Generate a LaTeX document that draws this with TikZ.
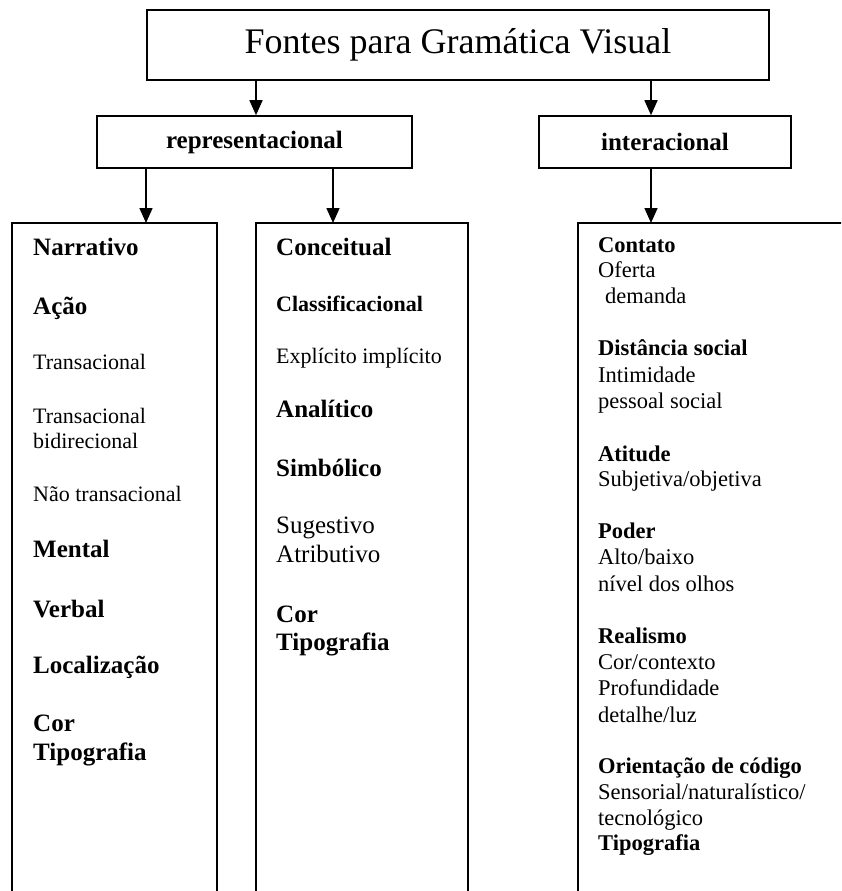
\documentclass[tikz,border=0pt]{standalone}
\usepackage{fontspec}
\setmainfont{Liberation Serif}
\usetikzlibrary{arrows.meta}

\tikzset{
	caixa/.style = {draw, line width = 1.6pt, inner sep = 0pt},
	seta/.style = {line width = 1.6pt, -{Triangle[length = 15pt, width = 13pt]}},
	cab/.style = {anchor = base west, inner sep = 0pt, font = \fontsize{25}{29}\selectfont\bfseries},
	subcab/.style = {anchor = base west, inner sep = 0pt, font = \fontsize{22}{25}\selectfont\bfseries},
	itemr/.style = {anchor = base west, inner sep = 0pt, font = \fontsize{22}{25}\selectfont},
	itemg/.style = {anchor = base west, inner sep = 0pt, font = \fontsize{25}{29}\selectfont},
	dcab/.style = {anchor = base west, inner sep = 0pt, font = \fontsize{22.5}{26}\selectfont\bfseries},
	ditem/.style = {anchor = base west, inner sep = 0pt, font = \fontsize{22.5}{26}\selectfont}
}

\begin{document}
\begin{tikzpicture}[x = 1pt, y = -1pt]
	\useasboundingbox (0,0) rectangle (841,891);
	\clip (0,0) rectangle (841,891);

	% caixas de cima
	\node[caixa, minimum width = 622pt, minimum height = 70pt, font = \fontsize{36}{40}\selectfont]
		(fontes) at (458,45) {Fontes para Gramática Visual};
	\node[caixa, minimum width = 315pt, minimum height = 52pt, font = \fontsize{25}{29}\selectfont\bfseries]
		(repr) at (254.5,142) {representacional};
	\node[caixa, minimum width = 252pt, minimum height = 52pt, font = \fontsize{25}{29}\selectfont\bfseries]
		(inter) at (665,142) {interacional};

	% colunas (abertas em baixo)
	\draw[caixa] (12,930) |- (217,223) node[coordinate](narr){} -- (217,930);
	\draw[caixa] (256,930) |- (468,223) node[coordinate](conc){} -- (468,930);
	\draw[caixa] (578,930) |- (870,223) node[coordinate](cont){};

	% setas
	\draw[seta] (256,0 |- fontes.south) -- (256,0 |- repr.north);
	\draw[seta] (651,0 |- fontes.south) -- (651,0 |- inter.north);
	\draw[seta] (146,0 |- repr.south) -- (146,0 |- narr);
	\draw[seta] (333,0 |- repr.south) -- (333,0 |- conc);
	\draw[seta] (651,0 |- inter.south) -- (651,0 |- cont);

	% narrativo
	\foreach \y/\s/\t [count = \i] in {255/cab/Narrativo, 314/cab/Ação,
		369/itemr/Transacional, 423/itemr/Transacional, 448/itemr/bidirecional,
		501/itemr/Não transacional, 557/cab/Mental, 617/cab/Verbal,
		673/cab/Localização, 731/cab/Cor, 760/cab/Tipografia}
		\node[\s] (n\i) at (33,\y) {\t};

	% conceitual
	\foreach \y/\s/\t [count = \i] in {255/cab/Conceitual, 311/subcab/Classificacional,
		363/itemr/Explícito implícito, 417/cab/Analítico, 476/cab/Simbólico,
		533/itemg/Sugestivo, 562/itemg/Atributivo, 622/cab/Cor, 650/cab/Tipografia}
		\node[\s] (c\i) at (276,\y) {\t};

	% interacional
	\foreach \x/\y/\s/\t [count = \i] in {598/252/dcab/Contato, 598/277/ditem/Oferta,
		605/303/ditem/demanda, 598/355/dcab/Distância social, 598/382/ditem/Intimidade,
		598/408/ditem/pessoal social, 598/461/dcab/Atitude, 598/486/ditem/Subjetiva\slash objetiva,
		598/538/dcab/Poder, 598/564/ditem/Alto\slash baixo, 598/591/ditem/nível dos olhos,
		598/643/dcab/Realismo, 598/669/ditem/Cor\slash contexto, 598/695/ditem/Profundidade,
		598/722/ditem/detalhe\slash luz, 598/773/dcab/Orientação de código,
		598/799/ditem/Sensorial\slash naturalístico\slash, 598/825/ditem/tecnológico,
		598/850/dcab/Tipografia}
		\node[\s] (i\i) at (\x,\y) {\t};
\end{tikzpicture}
\end{document}
